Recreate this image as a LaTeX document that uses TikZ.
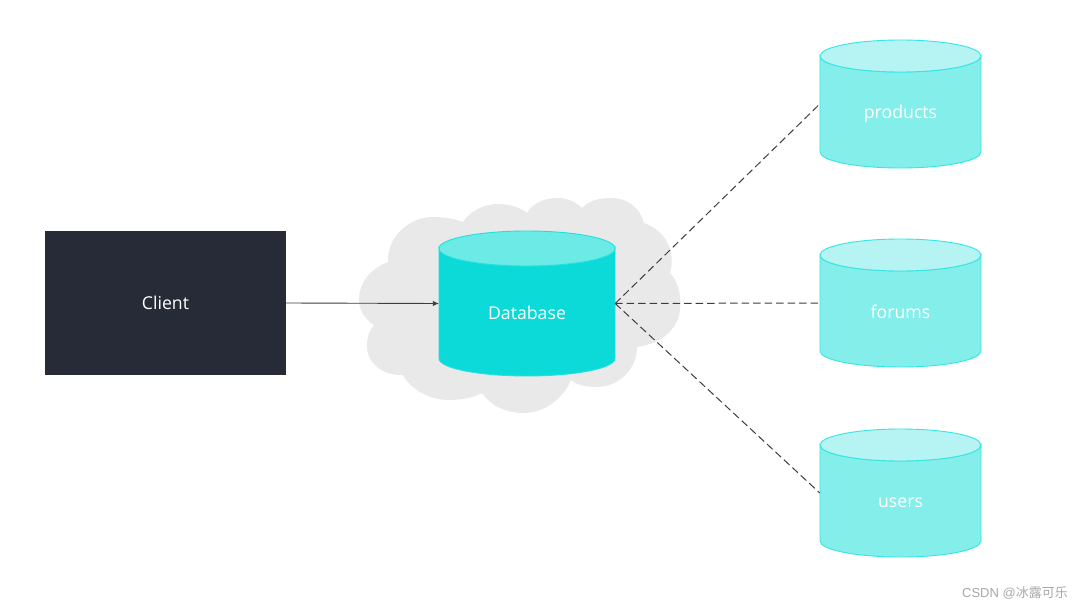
\documentclass[tikz,border=0pt]{standalone}
\usepackage{fontspec}
\setmainfont{Open Sans}
\newfontfamily\wmfont{Liberation Sans}
\newfontfamily\wmcjk{Noto Sans CJK SC}
\usetikzlibrary{arrows.meta}
\definecolor{dbbody}{HTML}{0BDAD8}
\definecolor{dbtop}{HTML}{6BEAE6}
\definecolor{dbline}{HTML}{1EE2DE}
\definecolor{stbody}{HTML}{84EEEB}
\definecolor{sttop}{HTML}{B5F4F2}
\definecolor{stline}{HTML}{35E6E2}
\definecolor{cloudgray}{HTML}{E9E9E9}
\definecolor{clientdark}{HTML}{272B37}
\definecolor{linkgray}{HTML}{3A3D45}
\definecolor{wmgray}{HTML}{A8A8A8}
\tikzset{
  x=1pt,y=-1pt,
  clientbox/.style={fill=clientdark,draw=none,text=white,font=\fontsize{17.7}{20}\selectfont,minimum width=241pt,minimum height=144pt,inner sep=0pt},
  anchorbox/.style={draw=none,fill=none,inner sep=0pt},
  lbl/.style={text=white,inner sep=0pt,font=\fontsize{17.7}{20}\selectfont},
  flow/.style={linkgray,line width=0.9pt,-{Latex[length=6pt,width=5.5pt]}},
  link/.style={linkgray,line width=1pt,dash pattern=on 7.5pt off 4pt},
}
% cylinder: #1 name, #2 cx, #3 cy, #4 rx, #5 total h, #6 ry, #7 body, #8 top, #9 line
\newcommand{\drum}[9]{%
  \node[anchorbox,minimum width=#4*2pt,minimum height=#5*1pt] (#1) at (#2,#3) {};
  \path[fill=#7,draw=#9,line width=0.9pt]
    (#2-#4,#3-#5/2+#6) -- (#2-#4,#3+#5/2-#6)
    arc[start angle=180,end angle=360,x radius=#4,y radius=-#6]
    -- (#2+#4,#3-#5/2+#6)
    arc[start angle=0,end angle=-180,x radius=#4,y radius=-#6] -- cycle;
  \path[fill=#8,draw=#9,line width=0.9pt]
    (#2,#3-#5/2+#6) ellipse[x radius=#4,y radius=#6];
}
\begin{document}
\begin{tikzpicture}
\useasboundingbox (0,0) rectangle (1080,607);
\fill[white] (0,0) rectangle (1080,607);
% cloud
\fill[cloudgray] (388,262)
  .. controls (387,236) and (410,217) .. (433,217)
  .. controls (445,217) and (455,219) .. (463,222)
  .. controls (472,209) and (486,204) .. (498,204)
  .. controls (511,204) and (521,208) .. (527,213)
  .. controls (533,203) and (545,198) .. (557,198)
  .. controls (568,198) and (576,202) .. (582,208)
  .. controls (590,200) and (600,198) .. (610,198)
  .. controls (628,198) and (640,208) .. (644,223)
  .. controls (662,229) and (677,248) .. (670,273)
  .. controls (683,287) and (684,316) .. (672,329)
  .. controls (664,340) and (650,345) .. (637,347)
  .. controls (637,370) and (618,387) .. (596,387)
  .. controls (586,387) and (577,385) .. (571,380)
  .. controls (561,403) and (540,413) .. (524,413)
  .. controls (505,413) and (490,405) .. (482,393)
  .. controls (470,399) and (458,400) .. (449,400)
  .. controls (428,400) and (410,388) .. (403,375)
  .. controls (380,376) and (366,360) .. (367,345)
  .. controls (367,337) and (369,331) .. (374,325)
  .. controls (363,318) and (359,308) .. (359,300)
  .. controls (359,283) and (370,269) .. (388,262) -- cycle;
% client
\node[clientbox] (client) at (165.5,303) {Client};
% database
\drum{db}{527}{303.5}{88}{145}{17.5}{dbbody}{dbtop}{dbline}
\node[lbl] (dblabel) at (527,313) {Database};
% stores
\drum{products}{900.5}{104}{80.5}{128}{16}{stbody}{sttop}{stline}
\node[lbl] (productslabel) at (900.5,114) {products};
\drum{forums}{900.5}{303}{80.5}{128}{16}{stbody}{sttop}{stline}
\node[lbl] (forumslabel) at (900.5,312) {forums};
\drum{users}{900.5}{493}{80.5}{128}{16}{stbody}{sttop}{stline}
\node[lbl] (userslabel) at (900.5,502.5) {users};
% connectors
\draw[flow] (client.east) -- (db.west);
\draw[link] (db.east) -- (products.west);
\draw[link] (db.east) -- (forums.west);
\draw[link] (db.east) -- (users.west);
% watermark
\node[text=wmgray,inner sep=0pt,anchor=east,font=\fontsize{13}{15}\selectfont] (wm) at (1068,593) {\wmfont CSDN @\wmcjk 冰露可乐};
\end{tikzpicture}
\end{document}
